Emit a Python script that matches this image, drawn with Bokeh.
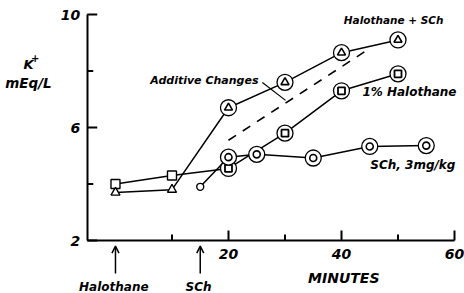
from bokeh.plotting import figure
from bokeh.models import Range1d, FixedTicker, Label, Arrow, OpenHead
from bokeh.embed import file_html
from bokeh.resources import INLINE

# ---- data ----
halo_x = [0, 10, 20, 30, 40, 50]          # 1% Halothane
halo_y = [4.0, 4.3, 4.55, 5.8, 7.3, 7.9]
combo_x = [0, 10, 20, 30, 40, 50]         # Halothane + SCh
combo_y = [3.7, 3.8, 6.7, 7.6, 8.65, 9.1]
sch_x = [15, 20, 25, 35, 45, 55]          # SCh, 3 mg/kg
sch_y = [3.9, 4.95, 5.05, 4.92, 5.33, 5.36]
additive_x = [20, 45]                     # Additive Changes (dashed)
additive_y = [5.55, 8.8]
x_major = [20, 40, 60]
x_minor = [10, 30, 50]
y_major = [2, 6, 10]
y_minor = [4, 8]
event_x = [0, 15]
event_labels = ["Halothane", "SCh"]

FONT = "DejaVu Sans"
STYLE = "bold italic"
X0, Y0 = -5, 2            # where the axes cross
PX_X = 5.65               # pixels per minute
PX_Y = 28.25              # pixels per mEq/L

p = figure(width=464, height=293, output_backend="svg", toolbar_location=None,
           x_range=Range1d(-20.35, 61.77), y_range=Range1d(0.124, 10.496),
           min_border=0)
p.outline_line_color = None
p.xgrid.visible = False
p.ygrid.visible = False
p.background_fill_color = "white"
p.border_fill_color = "white"

p.xaxis.fixed_location = Y0
p.xaxis.bounds = (X0, 60)
p.yaxis.fixed_location = X0
p.yaxis.bounds = (Y0, 10)

for ax, majors, minors in ((p.xaxis[0], x_major, x_minor), (p.yaxis[0], y_major, y_minor)):
    ax.ticker = FixedTicker(ticks=majors, minor_ticks=minors)
    ax.axis_line_width = 2
    ax.axis_line_color = "black"
    ax.major_tick_in = 0
    ax.major_tick_out = 0
    ax.minor_tick_in = 0
    ax.minor_tick_out = 0
    ax.major_label_text_font = FONT
    ax.major_label_text_font_style = STYLE
    ax.major_label_text_font_size = "14px"
    ax.major_label_text_color = "black"
p.xaxis.major_label_standoff = 8
p.yaxis.major_label_standoff = 7

# inward tick marks at the axis tick positions
p.segment(x0=x_major, y0=[Y0] * len(x_major), x1=x_major, y1=[Y0 + 10 / PX_Y] * len(x_major),
          line_color="black", line_width=2)
p.segment(x0=x_minor, y0=[Y0] * len(x_minor), x1=x_minor, y1=[Y0 + 6 / PX_Y] * len(x_minor),
          line_color="black", line_width=2)
p.segment(x0=[X0] * len(y_major), y0=y_major, x1=[X0 + 10 / PX_X] * len(y_major), y1=y_major,
          line_color="black", line_width=2)
p.segment(x0=[X0] * len(y_minor), y0=y_minor, x1=[X0 + 6 / PX_X] * len(y_minor), y1=y_minor,
          line_color="black", line_width=2)

# lines
p.line(additive_x, additive_y, line_color="black", line_width=1.6, line_dash="9 8")
p.line(halo_x, halo_y, line_color="black", line_width=1.5)
p.line(combo_x, combo_y, line_color="black", line_width=1.5)
p.line(sch_x, sch_y, line_color="black", line_width=1.5)

# plain markers (before drugs take effect)
p.scatter(halo_x[:2], halo_y[:2], marker="square", size=9, fill_color="white",
          line_color="black", line_width=1.4)
p.scatter(combo_x[:2], combo_y[:2], marker="triangle", size=9, fill_color="white",
          line_color="black", line_width=1.4)

# circled squares
p.scatter(halo_x[2:], halo_y[2:], marker="circle", size=16, fill_color="white",
          line_color="black", line_width=1.3)
p.scatter(halo_x[2:], halo_y[2:], marker="square", size=7, fill_color="white",
          line_color="black", line_width=1.8)
# circled triangles
p.scatter(combo_x[2:], combo_y[2:], marker="circle", size=16, fill_color="white",
          line_color="black", line_width=1.3)
p.scatter(combo_x[2:], combo_y[2:], marker="triangle", size=8, fill_color="white",
          line_color="black", line_width=1.6)
# SCh circles
p.scatter(sch_x[:1], sch_y[:1], marker="circle", size=7, fill_color="white",
          line_color="black", line_width=1.4)
p.scatter(sch_x[1:], sch_y[1:], marker="circle", size=16, fill_color="white",
          line_color="black", line_width=1.3)
p.scatter(sch_x[1:], sch_y[1:], marker="circle", size=7, fill_color="white",
          line_color="black", line_width=1.6)

def lab(x, y, text, size, align="left", baseline="middle"):
    p.add_layout(Label(x=x, y=y, text=text, text_font=FONT, text_font_style=STYLE,
                       text_font_size=size, text_align=align, text_baseline=baseline,
                       text_color="black"))

lab(40.4, 9.79, "Halothane + SCh", "10.5px")
lab(25.3, 7.66, "Additive Changes", "11px", align="right")
lab(43.7, 7.27, "1% Halothane", "12px")
lab(45.1, 4.69, "SCh, 3mg/kg", "12px")
lab(-15.4, 8.23, "K", "13px", align="center")
lab(-14.2, 8.45, "+", "10px", align="center")
lab(-15.4, 7.56, "mEq/L", "13.5px", align="center")
lab(40.4, 0.66, "MINUTES", "14px", align="center")

# leader line from "Additive Changes" to the dashed line
p.line([26.0, 30.1], [7.59, 6.96], line_color="black", line_width=1.2)

# event arrows below the time axis
for ex, et in zip(event_x, event_labels):
    p.add_layout(Arrow(end=OpenHead(size=7, line_width=1.5, line_color="black"),
                       x_start=ex, y_start=0.83, x_end=ex, y_end=1.8,
                       line_width=1.5, line_color="black"))
    lab(ex - 0.3, 0.34, et, "12px", align="center")

open("out.html", "w").write(file_html(p, INLINE))
